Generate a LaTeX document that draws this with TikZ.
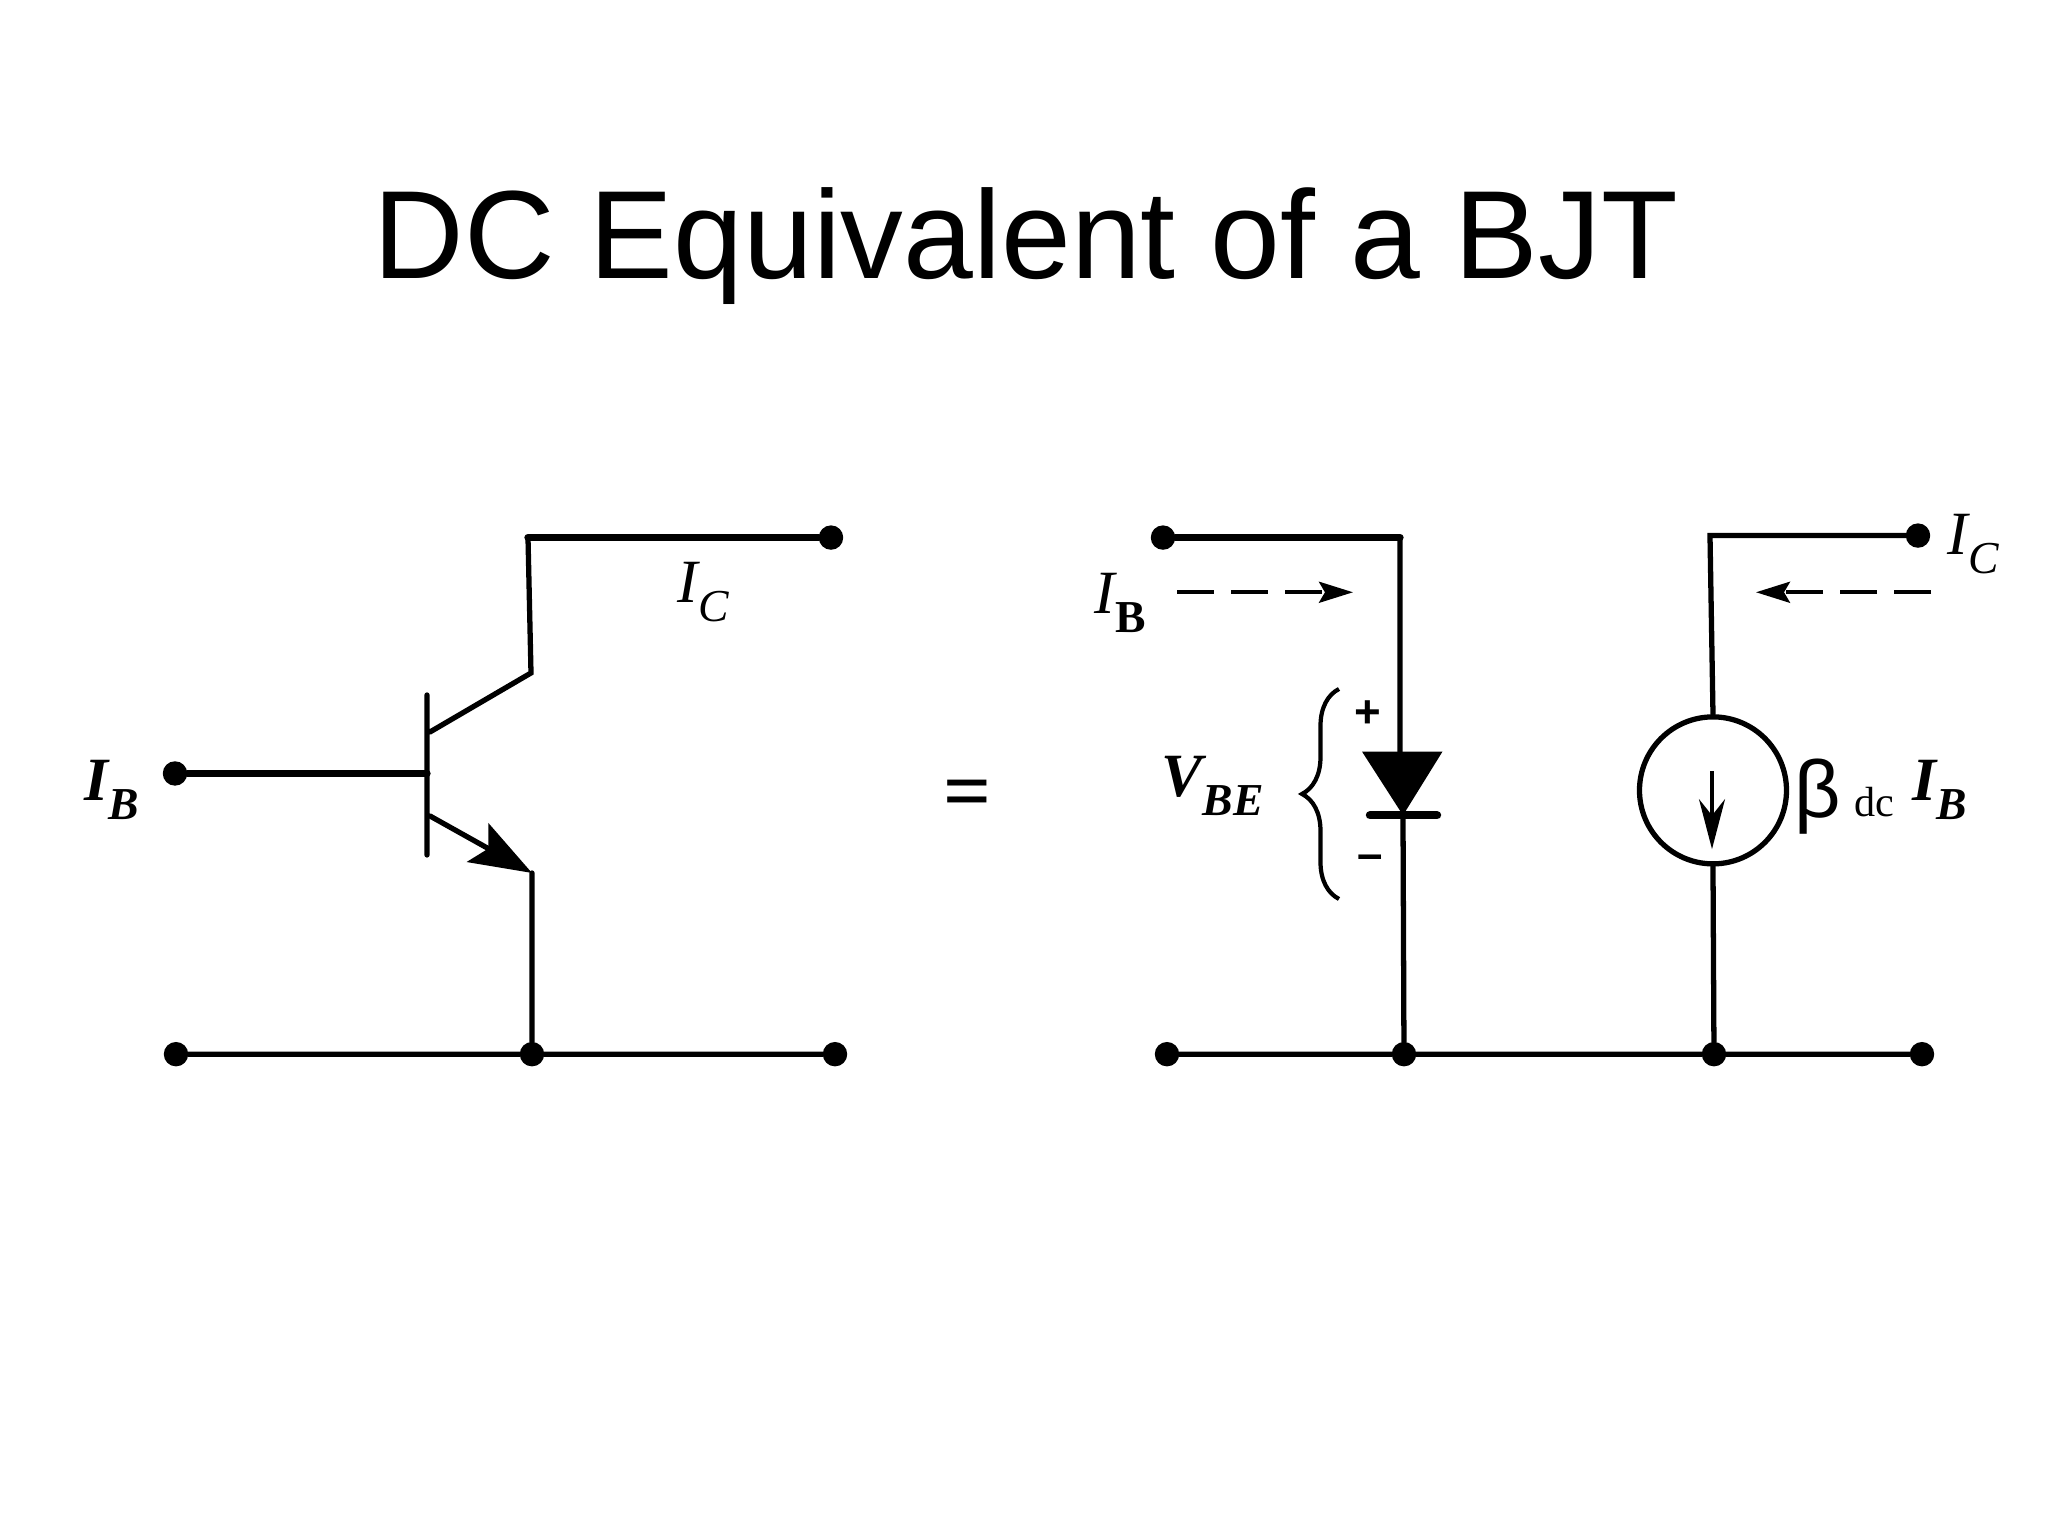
\documentclass[tikz,border=0pt]{standalone}
\usepackage{fontspec}
\setmainfont{Liberation Sans}
\newfontfamily\serifface{Liberation Serif}
\usetikzlibrary{arrows.meta,decorations.pathreplacing}

\newcommand{\sublabel}[2]{{\serifface\fontsize{17.5}{17.5}\selectfont\itshape #1\raisebox{-0.3em}{\fontsize{13}{13}\selectfont #2}}}

\tikzset{
	term/.style = {draw, circle, fill = black, inner sep = 0pt, minimum size = 0.23cm},
	wire/.style = {line width = 1.5pt, line cap = round},
	heavy/.style = {line width = 2.1pt, line cap = round},
	txt/.style = {inner sep = 0pt},
	flow/.style = {line width = 1.1pt, dash pattern = on 0.37cm off 0.17cm, -{Stealth[length = 0.34cm, width = 0.21cm, inset = 0.06cm]}}
}

\begin{document}
\begin{tikzpicture}
		\useasboundingbox (0,0) rectangle (20.48,15.36);

		\node[txt] (title) at (10.26,12.90) {\fontsize{35.7}{35.7}\selectfont DC Equivalent of a BJT};

		% transistor
		\node[term] (Bin) at (1.75,7.625) {};
		\node[term] (Cout) at (8.31,9.984) {};
		\node[term] (Gl) at (1.76,4.818) {};
		\node[term] (Em) at (5.32,4.818) {};
		\node[term] (Gr) at (8.35,4.818) {};
		\coordinate (Bj) at (4.27,7.625);
		\coordinate (BarT) at (4.27,8.41);
		\coordinate (BarB) at (4.27,6.81);
		\coordinate (Cc) at (5.28,9.984);
		\coordinate (Ce) at (5.31,8.63);
		\coordinate (Cs) at (4.30,8.04);
		\coordinate (Es) at (4.30,7.20);
		\coordinate (Ee) at (5.32,6.63);

		\path[draw, heavy]
			(Bin) -- (Bj)
			(Cout) -- (Cc);
		\path[draw, wire]
			(BarT) -- (BarB)
			(Cc) -- (Ce) -- (Cs)
			(Ee) -- (Em)
			(Gl) -- (Em)
			(Em) -- (Gr);
		\draw[wire, -{Stealth[length = 0.62cm, width = 0.44cm, inset = 0.12cm]}] (Es) -- (Ee);

		\node[txt] (lblIb) at (1.115,7.46) {\bfseries\sublabel{I}{B}};
		\node[txt] (lblIc) at (7.03,9.44) {\sublabel{I}{C}};
		\node[txt] (eq) at (9.68,7.36) {\fontsize{24}{24}\selectfont\bfseries\serifface =};

		% equivalent circuit
		\node[term] (Bin2) at (11.63,9.984) {};
		\node[term] (Cout2) at (19.18,10.004) {};
		\node[term] (Gl2) at (11.67,4.818) {};
		\node[term] (Da) at (14.04,4.818) {};
		\node[term] (Sa) at (17.14,4.818) {};
		\node[term] (Gr2) at (19.22,4.818) {};
		\node[draw, circle, line width = 1.5pt, inner sep = 0pt, minimum size = 1.47cm] (src) at (17.13,7.456) {};
		\coordinate (Bc) at (14.00,9.984);
		\coordinate (Dt) at (14.00,7.844);
		\coordinate (Dl) at (13.62,7.844);
		\coordinate (Dr) at (14.425,7.844);
		\coordinate (Dk) at (14.03,7.207);
		\coordinate (Kl) at (13.70,7.207);
		\coordinate (Kr) at (14.37,7.207);
		\coordinate (Cc2) at (17.10,10.004);
		\coordinate (St) at (17.12,7.645);
		\coordinate (Sb) at (17.12,6.868);
		\coordinate (Fa) at (11.77,9.437);
		\coordinate (Fb) at (13.53,9.437);
		\coordinate (Fc) at (19.31,9.437);
		\coordinate (Fd) at (17.56,9.437);
		\coordinate (BrT) at (13.39,8.47);
		\coordinate (BrB) at (13.39,6.37);

		\path[draw, heavy]
			(Bin2) -- (Bc);
		\path[draw, wire]
			(Bc) -- (Dt)
			(Dk) -- (Da)
			(Cout2) -- (Cc2) -- (src.north)
			(src.south) -- (Sa)
			(Gl2) -- (Da)
			(Da) -- (Sa)
			(Sa) -- (Gr2);
		\path[fill, black] (Dl) -- (Dr) -- (Dk) -- cycle;
		\draw[line width = 2.4pt, line cap = round] (Kl) -- (Kr);
		\draw[line width = 1.1pt, -{Stealth[length = 0.5cm, width = 0.26cm]}] (St) -- (Sb);
		\draw[flow] (Fa) -- (Fb);
		\draw[flow] (Fc) -- (Fd);
		\draw[line width = 1.2pt, decorate, decoration = {brace, amplitude = 0.37cm}] (BrB) -- (BrT);

		\node[txt] (lblIb2) at (11.20,9.33) {{\serifface\fontsize{17.5}{17.5}\selectfont\itshape I\raisebox{-0.3em}{\fontsize{13}{13}\selectfont\upshape\bfseries B}}};
		\node[txt] (lblIc2) at (19.73,9.92) {\sublabel{I}{C}};
		\node[txt] (lblVbe) at (12.125,7.50) {\bfseries\sublabel{V}{BE}};
		\node[txt] (plus) at (13.68,8.222) {\fontsize{13}{13}\selectfont\bfseries +};
		\node[txt] (minus) at (13.70,6.74) {\fontsize{13}{13}\selectfont\bfseries –};
		\node[txt] (beta) at (18.18,7.39) {\fontsize{23}{23}\selectfont β};
		\node[txt] (dc) at (18.74,7.34) {\serifface\fontsize{12}{12}\selectfont dc};
		\node[txt] (lblIb3) at (19.40,7.46) {\bfseries\sublabel{I}{B}};
	\end{tikzpicture}
\end{document}
